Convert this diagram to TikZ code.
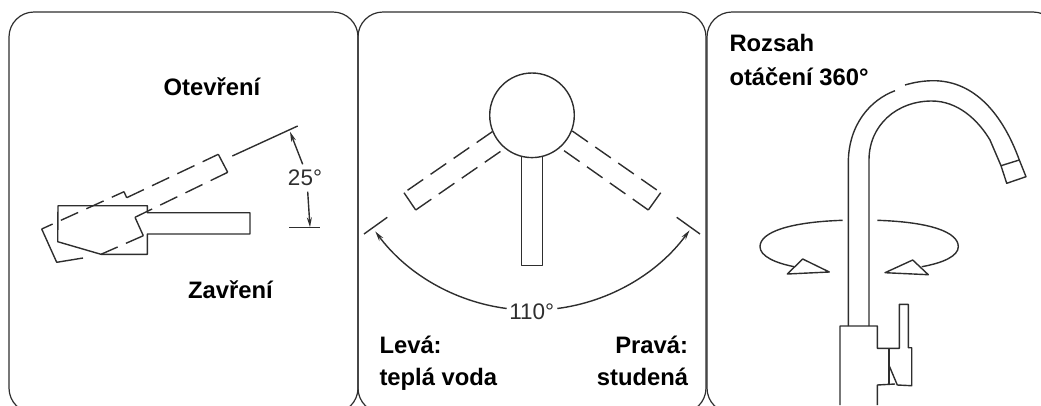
\documentclass[tikz,border=0pt]{standalone}
\usepackage{fontspec}
\setmainfont{Liberation Sans}
\usetikzlibrary{arrows.meta}
\definecolor{ink}{HTML}{2E2E2E}
\tikzset{
  line/.style={draw=ink,line width=1.4pt,line join=round},
  frame/.style={draw=ink,line width=1.2pt,rounded corners=25pt},
  dashline/.style={line,dash pattern=on 19pt off 9pt},
  dimarrow/.style={line,-{Stealth[length=10pt,width=5pt]}},
  label/.style={font=\fontsize{23.8}{23.8}\bfseries\selectfont,text=black,inner sep=0pt},
  dimtext/.style={font=\fontsize{22.5}{22.5}\selectfont,text=ink,inner sep=0pt}
}
\begin{document}
\begin{tikzpicture}[x=1pt,y=-1pt]
\useasboundingbox (0,0) rectangle (1041,405);
\begin{scope}
\clip (0,0) rectangle (1041,405);
% frames
\draw[frame] (9,413) -- (9,12) -- (358,12) -- (358,413) -- cycle;
\draw[frame] (358,413) -- (358,12) -- (706,12) -- (706,413) -- cycle;
\draw[frame] (707,413) -- (707,12) -- (1058,12) -- (1058,413) -- cycle;
% panel 1
\draw[line] (58,205.7) -- (147.3,205.7) -- (147.3,212.7) -- (250,212.7) -- (250,234) -- (147.3,234) -- (147.3,254.3) -- (101,254.3) -- (57.7,241.7) -- cycle;
\draw[dashline,dash phase=7pt] (41.7,229) -- (124,191.7);
\draw[line] (124,191.7) -- (126.7,197.7);
\draw[dashline] (126.7,197.7) -- (218.3,154.3);
\draw[line] (218.3,154.3) -- (227.7,172.3);
\draw[dashline] (227.7,172.3) -- (135,217.3);
\draw[line] (135,217.3) -- (143.3,235.7);
\draw[dashline] (143.3,235.7) -- (101,254.3);
\draw[line] (83,258) -- (56.7,262.3) -- (41.7,229);
\draw[line] (232.3,156) -- (297.7,126);
\draw[dimarrow] (302.7,164.3) -- (290,131.7);
\draw[dimarrow] (307.7,191.7) -- (310,227.3);
\draw[line] (289.3,227.3) -- (320,227.3);
\node[dimtext] (a25) at (305,177.5) {25°};
\node[label,anchor=base] (open) at (212,95) {Otevření};
\node[label,anchor=base] (close) at (230.5,298) {Zavření};
% panel 2
\node[draw=ink,line width=1.4pt,circle,minimum size=84.6pt,inner sep=0pt] (knob) at (532,115.3) {};
\draw[line] (521.7,157) -- (521.7,265.7) -- (542.7,265.7) -- (542.7,157);
\draw[dashline] (492.3,131.7) -- (404,192.7);
\draw[line] (404,192.7) -- (415.7,210);
\draw[dashline] (415.7,210) -- (504,149);
\draw[dashline] (572.3,131) -- (660.7,192.7);
\draw[line] (660.7,192.7) -- (648.3,210);
\draw[dashline] (648.3,210) -- (560.7,148.3);
\draw[line] (364,234) -- (387.3,217.3);
\draw[line] (676.7,217.3) -- (700,234);
\draw[dimarrow] (506.7,308.5) arc[start angle=97.4,end angle=143.4,radius=195];
\draw[dimarrow] (557.3,308.5) arc[start angle=82.6,end angle=36.2,radius=195];
\node[dimtext] (a110) at (531.7,311.7) {110°};
\node[label,anchor=base west] (lefta) at (379.3,353.3) {Levá:};
\node[label,anchor=base west] (leftb) at (379.3,385.7) {teplá voda};
\node[label,anchor=base east] (righta) at (688.3,353.3) {Pravá:};
\node[label,anchor=base east] (rightb) at (688.3,385.7) {studená};
% panel 3
\node[label,anchor=base west] (rota) at (729.3,51.7) {Rozsah};
\node[label,anchor=base west] (rotb) at (729.3,85) {otáčení 360°};
\draw[line] (848.3,326) -- (848.3,163) .. controls (848.3,125) and (870,100) .. (895,90.7);
\draw[line] (905,85) .. controls (915,82) and (925,80.7) .. (933.3,80.7) .. controls (975,80.7) and (1003,115) .. (1019.3,160);
\draw[line] (869,326) -- (869,160) .. controls (869,125) and (897,101) .. (931.7,101) .. controls (958,101) and (978,120) .. (990,140) -- (1001,165.7);
\draw[line] (1001,165.7) -- (1019.3,160) -- (1026,176.7) -- (1006.7,183.3) -- cycle;
\draw[line] (842.7,220.3) .. controls (790,222) and (760,232) .. (760,246.7) .. controls (760,256) and (775,263) .. (794.3,266.7);
\draw[line] (877.3,220.3) .. controls (930,222) and (958.3,232) .. (958.3,246.7) .. controls (958.3,256) and (943,263) .. (921.7,266.7);
\draw[line] (787.3,274) -- (802.7,259) -- (829.3,272) -- cycle;
\draw[line] (885,272.7) -- (912.7,260) -- (928.3,274.7) -- cycle;
\draw[line] (840,405) -- (840,326) -- (877.3,326) -- (877.3,348.3) -- (899.3,348.3) -- (899.3,304.3) -- (908.3,304.3) -- (908.3,347.7) -- (911.7,347.7) -- (911.7,385.7) -- (897.3,385) -- (889.3,366);
\draw[line] (877.3,405) -- (877.3,385) -- (895,384);
\draw[draw=ink,line width=2.2pt] (889.3,348.3) -- (889.3,384);
\end{scope}
\end{tikzpicture}
\end{document}
